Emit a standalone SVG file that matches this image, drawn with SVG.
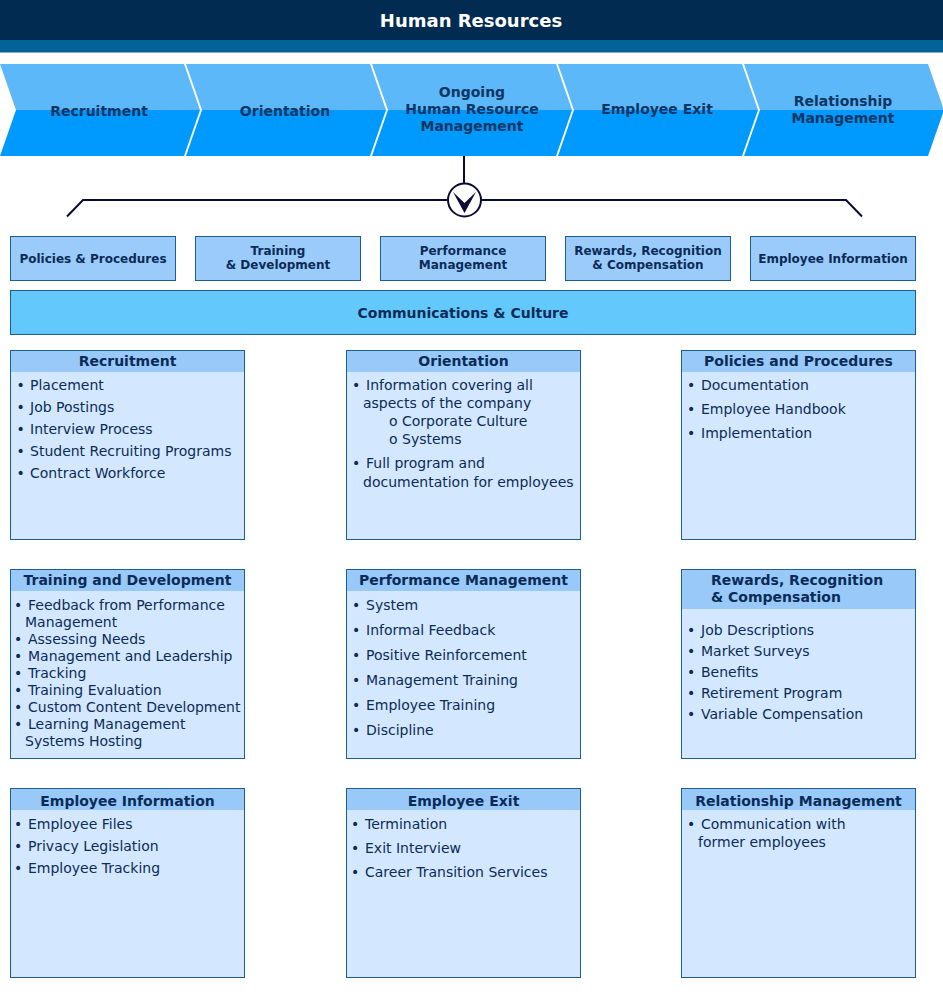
<svg xmlns="http://www.w3.org/2000/svg" width="943" height="1000" viewBox="0 0 943 1000">
<defs>
<linearGradient id="chev" x1="0" y1="0" x2="0" y2="1">
<stop offset="0" stop-color="#5CB8F8"/><stop offset="0.5" stop-color="#5CB8F8"/>
<stop offset="0.5" stop-color="#0099FE"/><stop offset="1" stop-color="#0099FE"/>
</linearGradient>
<style>
text{font-family:"DejaVu Sans",Verdana,"Liberation Sans",sans-serif;fill:#0B2B57}
.t{font-size:18px;font-weight:bold;fill:#FFFFFF;text-anchor:middle}
.cv{font-size:14px;font-weight:bold;fill:#0E3563;text-anchor:middle}
.sb{fill:#9BCBFB;stroke:#1E5E8E;stroke-width:1}
.sbt{font-size:12px;font-weight:bold;text-anchor:middle}
.cc{fill:#63C8FC;stroke:#1E5E8E;stroke-width:1}
.cct{font-size:14px;font-weight:bold;text-anchor:middle}
.body{fill:#D3E8FF;stroke:#1E5E8E;stroke-width:1}
.hd{fill:#99C9F9}
.ht{font-size:14px;font-weight:bold;text-anchor:middle}
.hl{font-size:14px;font-weight:bold}
.it{font-size:14px}
.ln{stroke:#0A0A35;stroke-width:2;fill:none}
</style>
</defs>
<rect width="943" height="1000" fill="#FFFFFF"/>
<g id="header">
<rect x="0" y="0" width="943" height="40" fill="#022B52"/>
<rect x="0" y="40" width="943" height="12.5" fill="#036298"/>
<text class="t" x="471" y="27">Human Resources</text>
</g>
<g id="chevron-recruitment">
<polygon points="0,64 184,64 200,110 184,156 0,156 16,110" fill="url(#chev)"/>
<text class="cv" x="99" y="116">Recruitment</text>
</g>
<g id="chevron-orientation">
<polygon points="186,64 370,64 386,110 370,156 186,156 202,110" fill="url(#chev)"/>
<text class="cv" x="285" y="116">Orientation</text>
</g>
<g id="chevron-ongoing">
<polygon points="372,64 556,64 572,110 556,156 372,156 388,110" fill="url(#chev)"/>
<text class="cv" x="472" y="97">Ongoing</text>
<text class="cv" x="472" y="114">Human Resource</text>
<text class="cv" x="472" y="131">Management</text>
</g>
<g id="chevron-exit">
<polygon points="558,64 742,64 758,110 742,156 558,156 574,110" fill="url(#chev)"/>
<text class="cv" x="657" y="114">Employee Exit</text>
</g>
<g id="chevron-relationship">
<polygon points="744,64 928,64 944,110 928,156 744,156 760,110" fill="url(#chev)"/>
<text class="cv" x="843" y="106">Relationship</text>
<text class="cv" x="843" y="123">Management</text>
</g>
<g id="connectors">
<line class="ln" x1="464" y1="156" x2="464" y2="183"/>
<polyline class="ln" points="67,216.5 83,200 447,200"/>
<polyline class="ln" points="481,200 846,200 862,216.5"/>
<circle cx="464.5" cy="200" r="16.5" fill="#FFFFFF" stroke="#0A0A35" stroke-width="2"/>
<polygon points="453,192 464.5,203 476,192 464.5,213" fill="#0A0A35"/>
</g>
<g id="policies-procedures">
<rect class="sb" x="10.5" y="236.5" width="165" height="44"/>
<text class="sbt" x="93" y="262.5">Policies &amp; Procedures</text>
</g>
<g id="training-development">
<rect class="sb" x="195.5" y="236.5" width="165" height="44"/>
<text class="sbt" x="278" y="255">Training</text>
<text class="sbt" x="278" y="269">&amp; Development</text>
</g>
<g id="performance-management">
<rect class="sb" x="380.5" y="236.5" width="165" height="44"/>
<text class="sbt" x="463" y="255">Performance</text>
<text class="sbt" x="463" y="269">Management</text>
</g>
<g id="rewards-recognition">
<rect class="sb" x="565.5" y="236.5" width="165" height="44"/>
<text class="sbt" x="648" y="255">Rewards, Recognition</text>
<text class="sbt" x="648" y="269">&amp; Compensation</text>
</g>
<g id="employee-information">
<rect class="sb" x="750.5" y="236.5" width="165" height="44"/>
<text class="sbt" x="833" y="262.5">Employee Information</text>
</g>
<g id="communications-culture">
<rect class="cc" x="10.5" y="290.5" width="905" height="44"/>
<text class="cct" x="463" y="317.5">Communications &amp; Culture</text>
</g>
<g id="box-recruitment">
<rect class="body" x="10.5" y="350.5" width="234" height="189"/>
<rect class="hd" x="11" y="351" width="233" height="21"/>
<text class="ht" x="127.5" y="366">Recruitment</text>
<text class="it" x="16.5" y="390">•</text><text class="it" x="30" y="390">Placement</text>
<text class="it" x="16.5" y="412">•</text><text class="it" x="30" y="412">Job Postings</text>
<text class="it" x="16.5" y="434">•</text><text class="it" x="30" y="434">Interview Process</text>
<text class="it" x="16.5" y="456">•</text><text class="it" x="30" y="456">Student Recruiting Programs</text>
<text class="it" x="16.5" y="478">•</text><text class="it" x="30" y="478">Contract Workforce</text>
</g>
<g id="box-orientation">
<rect class="body" x="346.5" y="350.5" width="234" height="189"/>
<rect class="hd" x="347" y="351" width="233" height="21"/>
<text class="ht" x="463.5" y="366">Orientation</text>
<text class="it" x="352" y="390">•</text><text class="it" x="366" y="390">Information covering all</text>
<text class="it" x="363" y="408">aspects of the company</text>
<text class="it" x="389" y="426">o Corporate Culture</text>
<text class="it" x="389" y="444">o Systems</text>
<text class="it" x="352" y="468">•</text><text class="it" x="366" y="468">Full program and</text>
<text class="it" x="363" y="487">documentation for employees</text>
</g>
<g id="box-policies">
<rect class="body" x="681.5" y="350.5" width="234" height="189"/>
<rect class="hd" x="682" y="351" width="233" height="21"/>
<text class="ht" x="798.5" y="366">Policies and Procedures</text>
<text class="it" x="687" y="390">•</text><text class="it" x="701" y="390">Documentation</text>
<text class="it" x="687" y="414">•</text><text class="it" x="701" y="414">Employee Handbook</text>
<text class="it" x="687" y="438">•</text><text class="it" x="701" y="438">Implementation</text>
</g>
<g id="box-training">
<rect class="body" x="10.5" y="569.5" width="234" height="189"/>
<rect class="hd" x="11" y="570" width="233" height="21"/>
<text class="ht" x="127.5" y="585">Training and Development</text>
<text class="it" x="14" y="610">•</text><text class="it" x="28" y="610">Feedback from Performance</text>
<text class="it" x="25" y="627">Management</text>
<text class="it" x="14" y="644">•</text><text class="it" x="28" y="644">Assessing Needs</text>
<text class="it" x="14" y="661">•</text><text class="it" x="28" y="661">Management and Leadership</text>
<text class="it" x="14" y="678">•</text><text class="it" x="28" y="678">Tracking</text>
<text class="it" x="14" y="695">•</text><text class="it" x="28" y="695">Training Evaluation</text>
<text class="it" x="14" y="712">•</text><text class="it" x="28" y="712">Custom Content Development</text>
<text class="it" x="14" y="729">•</text><text class="it" x="28" y="729">Learning Management</text>
<text class="it" x="25" y="746">Systems Hosting</text>
</g>
<g id="box-performance">
<rect class="body" x="346.5" y="569.5" width="234" height="189"/>
<rect class="hd" x="347" y="570" width="233" height="21"/>
<text class="ht" x="463.5" y="585">Performance Management</text>
<text class="it" x="352" y="610">•</text><text class="it" x="366" y="610">System</text>
<text class="it" x="352" y="635">•</text><text class="it" x="366" y="635">Informal Feedback</text>
<text class="it" x="352" y="660">•</text><text class="it" x="366" y="660">Positive Reinforcement</text>
<text class="it" x="352" y="685">•</text><text class="it" x="366" y="685">Management Training</text>
<text class="it" x="352" y="710">•</text><text class="it" x="366" y="710">Employee Training</text>
<text class="it" x="352" y="735">•</text><text class="it" x="366" y="735">Discipline</text>
</g>
<g id="box-rewards">
<rect class="body" x="681.5" y="569.5" width="234" height="189"/>
<rect class="hd" x="682" y="570" width="233" height="39"/>
<text class="hl" x="711" y="585">Rewards, Recognition</text>
<text class="hl" x="711" y="602">&amp; Compensation</text>
<text class="it" x="687" y="635">•</text><text class="it" x="701" y="635">Job Descriptions</text>
<text class="it" x="687" y="656">•</text><text class="it" x="701" y="656">Market Surveys</text>
<text class="it" x="687" y="677">•</text><text class="it" x="701" y="677">Benefits</text>
<text class="it" x="687" y="698">•</text><text class="it" x="701" y="698">Retirement Program</text>
<text class="it" x="687" y="719">•</text><text class="it" x="701" y="719">Variable Compensation</text>
</g>
<g id="box-employee-information">
<rect class="body" x="10.5" y="788.5" width="234" height="189"/>
<rect class="hd" x="11" y="789" width="233" height="21"/>
<text class="ht" x="127.5" y="805.5">Employee Information</text>
<text class="it" x="14" y="829">•</text><text class="it" x="28" y="829">Employee Files</text>
<text class="it" x="14" y="851">•</text><text class="it" x="28" y="851">Privacy Legislation</text>
<text class="it" x="14" y="873">•</text><text class="it" x="28" y="873">Employee Tracking</text>
</g>
<g id="box-employee-exit">
<rect class="body" x="346.5" y="788.5" width="234" height="189"/>
<rect class="hd" x="347" y="789" width="233" height="21"/>
<text class="ht" x="463.5" y="805.5">Employee Exit</text>
<text class="it" x="351" y="829">•</text><text class="it" x="365" y="829">Termination</text>
<text class="it" x="351" y="853">•</text><text class="it" x="365" y="853">Exit Interview</text>
<text class="it" x="351" y="877">•</text><text class="it" x="365" y="877">Career Transition Services</text>
</g>
<g id="box-relationship">
<rect class="body" x="681.5" y="788.5" width="234" height="189"/>
<rect class="hd" x="682" y="789" width="233" height="21"/>
<text class="ht" x="798.5" y="805.5">Relationship Management</text>
<text class="it" x="687" y="829">•</text><text class="it" x="701" y="829">Communication with</text>
<text class="it" x="698" y="847">former employees</text>
</g>
</svg>
